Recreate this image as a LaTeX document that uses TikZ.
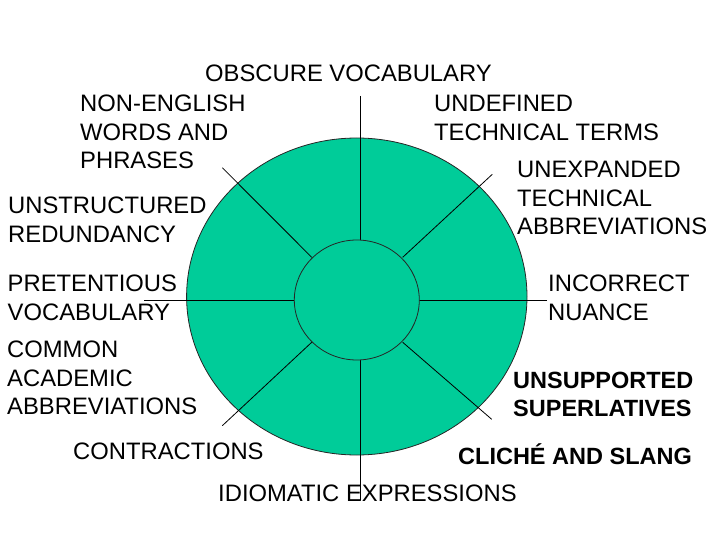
\documentclass[tikz,border=0pt]{standalone}
\usepackage{fontspec}
\setmainfont{Liberation Sans}
\definecolor{wheelgreen}{RGB}{0,204,153}
\begin{document}
\begin{tikzpicture}[x=1pt,y=-1pt,
  lbl/.style={inner sep=0pt, align=left, font=\fontsize{23.8}{28.5}\selectfont},
  blbl/.style={inner sep=0pt, align=left, font=\fontsize{23.5}{28.2}\selectfont\bfseries},
  spoke/.style={draw=black, line width=0.8pt},
  rim/.style={draw=black!85, line width=0.8pt, fill=wheelgreen}]
\useasboundingbox (0,0) rectangle (720,540);

% outer wheel
\path[rim] (356.8,296.5) ellipse [x radius=170.2, y radius=158.5];

% spoke ends (outer)
\coordinate (tOut) at (360.5,96);
\coordinate (bOut) at (360.5,500);
\coordinate (lOut) at (144,300.7);
\coordinate (rOut) at (547,300.7);
\coordinate (ulOut) at (222.3,167.7);
\coordinate (urOut) at (492.3,174.3);
\coordinate (llOut) at (222.3,425.7);
\coordinate (lrOut) at (491.7,419.3);
% spoke ends (hub)
\coordinate (tIn) at (360.5,240.2);
\coordinate (bIn) at (360.5,359.8);
\coordinate (lIn) at (294.3,300.7);
\coordinate (rIn) at (419.3,300.7);
\coordinate (ulIn) at (311.7,257.3);
\coordinate (urIn) at (402.7,257.3);
\coordinate (llIn) at (311.7,342.3);
\coordinate (lrIn) at (402.7,342.3);

\foreach \s in {t,b,l,r,ul,ur,ll,lr}
  \draw[spoke] (\s Out) -- (\s In);

% hub
\path[rim] (356.8,300) ellipse [x radius=62.5, y radius=60];

% labels
\node[lbl, anchor=base west] (obscure) at (205,82) {OBSCURE VOCABULARY};
\node[lbl, anchor=north west] (nonenglish) at (80,95) {NON-ENGLISH\\WORDS AND\\PHRASES};
\node[lbl, anchor=north west] (undefined) at (434,95) {UNDEFINED\\TECHNICAL TERMS};
\node[lbl, anchor=north west] (unexpanded) at (517,161) {UNEXPANDED\\TECHNICAL\\ABBREVIATIONS};
\node[lbl, anchor=north west] (unstructured) at (8,197) {UNSTRUCTURED\\REDUNDANCY};
\node[lbl, anchor=north west] (pretentious) at (7.5,275) {PRETENTIOUS\\VOCABULARY};
\node[lbl, anchor=north west] (common) at (7,341) {COMMON\\ACADEMIC\\ABBREVIATIONS};
\node[lbl, anchor=base west] (contractions) at (73,459) {CONTRACTIONS};
\node[lbl, anchor=base west] (idiomatic) at (218,501) {IDIOMATIC EXPRESSIONS};
\node[lbl, anchor=north west] (incorrect) at (548,275) {INCORRECT\\NUANCE};
\node[blbl, anchor=north west] (unsupported) at (513,372) {UNSUPPORTED\\SUPERLATIVES};
\node[blbl, anchor=base west] (cliche) at (458,464.5) {CLICHÉ AND SLANG};
\end{tikzpicture}
\end{document}
